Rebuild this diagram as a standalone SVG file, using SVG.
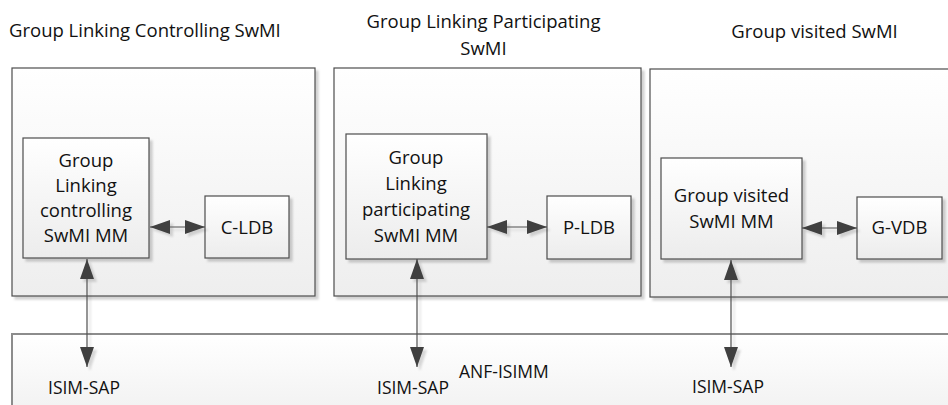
<svg xmlns="http://www.w3.org/2000/svg" width="948" height="405" viewBox="0 0 948 405">
  <defs>
    <linearGradient id="gBig" x1="0" y1="0" x2="0" y2="1">
      <stop offset="0" stop-color="#ffffff"/>
      <stop offset="1" stop-color="#eeeeee"/>
    </linearGradient>
    <linearGradient id="gSmall" x1="0" y1="0" x2="0" y2="1">
      <stop offset="0" stop-color="#ffffff"/>
      <stop offset="1" stop-color="#ececec"/>
    </linearGradient>
    <filter id="shadow" x="-5%" y="-5%" width="115%" height="115%">
      <feDropShadow dx="3" dy="3" stdDeviation="0.8" flood-color="#000000" flood-opacity="0.18"/>
    </filter>
    <filter id="ashadow" x="-20%" y="-20%" width="160%" height="160%">
      <feDropShadow dx="3" dy="3" stdDeviation="1" flood-color="#000000" flood-opacity="0.15"/>
    </filter>
    <marker id="ah" markerUnits="userSpaceOnUse" markerWidth="21" markerHeight="14" refX="20" refY="7" orient="auto-start-reverse" viewBox="0 0 21 14">
      <path d="M0,0 L20,7 L0,14 Z" fill="#404040"/>
    </marker>
    <style>
      .big { fill: url(#gBig); stroke: #4d4d4d; stroke-width: 1.2; filter: url(#shadow); }
      .small { fill: url(#gSmall); stroke: #4d4d4d; stroke-width: 1.2; filter: url(#shadow); }
      .bar { fill: url(#gBig); stroke: #8c8c8c; stroke-width: 2; }
      text { font-family: "Open Sans", "Liberation Sans", sans-serif; font-size: 18.5px; fill: #111111; }
      .c { text-anchor: middle; }
      .sap { font-size: 17.5px; }
      .conn line { stroke: #505050; stroke-width: 1.2; marker-start: url(#ah); marker-end: url(#ah); }
    </style>
  </defs>
  <rect width="948" height="405" fill="#ffffff"/>

  <g id="title-controlling">
    <text x="9" y="37">Group Linking Controlling SwMI</text>
  </g>
  <g id="title-participating">
    <text class="c" x="483.5" y="28">Group Linking Participating</text>
    <text class="c" x="483.5" y="54.5">SwMI</text>
  </g>
  <g id="title-visited">
    <text class="c" x="814.5" y="38">Group visited SwMI</text>
  </g>

  <g id="controlling-swmi">
    <rect class="big" x="12" y="68" width="303" height="228"/>
  </g>
  <g id="participating-swmi">
    <rect class="big" x="334" y="68" width="307" height="228"/>
  </g>
  <g id="visited-swmi">
    <rect class="big" x="650" y="69" width="310" height="228"/>
  </g>

  <g id="anf-isimm">
    <rect class="bar" x="12" y="334" width="960" height="100"/>
    <text x="459" y="378" class="sap">ANF-ISIMM</text>
  </g>

  <g id="controlling-mm">
    <rect class="small" x="23" y="138" width="126" height="120"/>
    <text class="c" x="86" y="166.5">Group</text>
    <text class="c" x="86" y="191.5">Linking</text>
    <text class="c" x="86" y="216.5">controlling</text>
    <text class="c" x="86" y="241.5">SwMI MM</text>
  </g>
  <g id="c-ldb">
    <rect class="small" x="205" y="196" width="84" height="62"/>
    <text class="c" x="247" y="233.5">C-LDB</text>
  </g>

  <g id="participating-mm">
    <rect class="small" x="346" y="134" width="141" height="125"/>
    <text class="c" x="416" y="163.5">Group</text>
    <text class="c" x="416" y="189.5">Linking</text>
    <text class="c" x="416" y="215.5">participating</text>
    <text class="c" x="416" y="241.5">SwMI MM</text>
  </g>
  <g id="p-ldb">
    <rect class="small" x="547" y="196" width="84" height="63"/>
    <text class="c" x="589" y="234">P-LDB</text>
  </g>

  <g id="visited-mm">
    <rect class="small" x="661" y="158" width="141" height="101"/>
    <text class="c" x="731.5" y="202">Group visited</text>
    <text class="c" x="731.5" y="228">SwMI MM</text>
  </g>
  <g id="g-vdb">
    <rect class="small" x="857" y="197" width="85" height="62"/>
    <text class="c" x="899.5" y="234">G-VDB</text>
  </g>

  <g id="sap-1"><text class="sap" x="48" y="394">ISIM-SAP</text></g>
  <g id="sap-2"><text class="sap" x="377" y="394">ISIM-SAP</text></g>
  <g id="sap-3"><text class="sap" x="692" y="393">ISIM-SAP</text></g>

  <g id="connectors" class="conn" filter="url(#ashadow)">
    <line x1="150" y1="227" x2="205" y2="227"/>
    <line x1="487" y1="227" x2="547" y2="227"/>
    <line x1="802" y1="228" x2="857" y2="228"/>
    <line x1="87" y1="259" x2="87" y2="367"/>
    <line x1="417" y1="259" x2="417" y2="367"/>
    <line x1="731" y1="260" x2="731" y2="367"/>
  </g>
</svg>
